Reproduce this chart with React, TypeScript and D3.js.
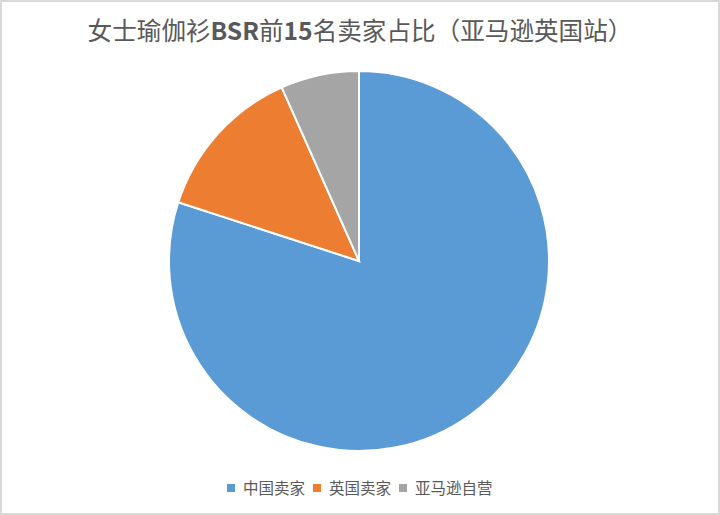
import React from 'react';
import * as d3 from 'd3';

const categories = ['中国卖家', '英国卖家', '亚马逊自营'];
const sellerCounts = [12, 2, 1];
const sliceColors = ['#5B9BD5', '#ED7D31', '#A5A5A5'];
// title pieces: the Latin bits are bold in the original
const titleParts: [string, boolean][] = [
  ['女士瑜伽衫', false],
  ['BSR', true],
  ['前', false],
  ['15', true],
  ['名卖家占比（亚马逊英国站）', false],
];

const width = 720;
const height = 515;

export default function App() {
  const cx = 359;
  const cy = 261;
  const radius = 190;

  const pie = d3.pie<number>().sort(null).value(d => d);
  const arcs = pie(sellerCounts);
  const arcGen = d3.arc<d3.PieArcDatum<number>>().innerRadius(0).outerRadius(radius);

  // legend items sit one after another, centred under the pie
  const legendStart = 227;
  const legendStep = 86;

  return (
    <svg
      width={width}
      height={height}
      style={{ position: 'absolute', left: 0, top: 0, background: '#fff' }}
      fontFamily="'Noto Sans CJK SC', 'Noto Sans', sans-serif"
    >
      <rect x={1} y={1} width={width - 2} height={height - 2} fill="#fff" stroke="#D9D9D9" strokeWidth={2} />
      <text x={width / 2} y={40} textAnchor="middle" fontSize={24.6} fill="#595959">
        {titleParts.map(([t, bold], i) => (
          <tspan key={i} fontWeight={bold ? 700 : 400}>
            {t}
          </tspan>
        ))}
      </text>
      <g transform={`translate(${cx},${cy})`}>
        {arcs.map((a, i) => (
          <path key={categories[i]} d={arcGen(a) || ''} fill={sliceColors[i]} stroke="#fff" strokeWidth={2} />
        ))}
      </g>
      <g>
        {categories.map((c, i) => (
          <g key={c} transform={`translate(${legendStart + i * legendStep},488)`}>
            <rect x={0} y={-4} width={8} height={8} fill={sliceColors[i]} />
            <text x={16} y={5.5} fontSize={15.5} fill="#595959">
              {c}
            </text>
          </g>
        ))}
      </g>
    </svg>
  );
}
